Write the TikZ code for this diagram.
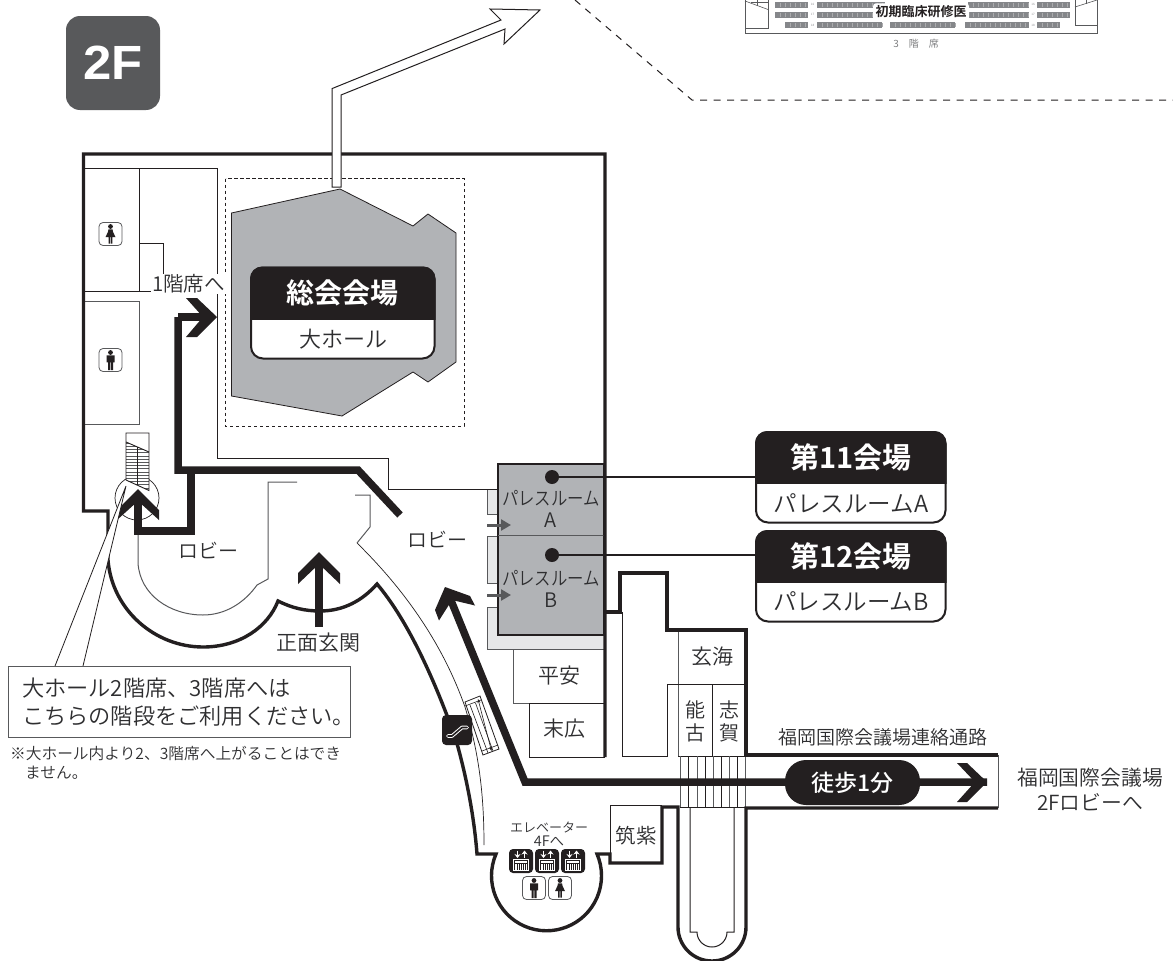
\documentclass[tikz,border=0pt]{standalone}
\usepackage{fontspec}
\setmainfont{Noto Sans CJK JP DemiLight}[BoldFont={Noto Sans CJK JP Bold}]
\newfontfamily\badgefont{Liberation Sans}
\newfontfamily\medfont{Noto Sans CJK JP Medium}
\usetikzlibrary{calc,arrows.meta}
\definecolor{ink}{HTML}{231F20}
\definecolor{txt}{HTML}{2E2E30}
\definecolor{roomgray}{HTML}{B1B3B6}
\definecolor{lightroom}{HTML}{E6E7E8}
\definecolor{midgray}{HTML}{58595B}
\definecolor{seat}{HTML}{85878A}
\tikzset{
  wall/.style={draw=ink,line width=3.4pt,line join=miter},
  route/.style={draw=ink,line width=7.5pt,line join=miter},
  thin wall/.style={draw=ink,line width=1pt},
  gray wall/.style={draw=midgray,line width=1pt},
  lbl/.style={text=txt,inner sep=0pt,align=center},
  dotnode/.style={circle,fill=ink,minimum size=14pt,inner sep=0pt},
  stairline/.style={draw=ink,line width=.7pt},
  lead/.style={draw=ink,line width=2.6pt},
  small arrow/.style={draw=midgray,line width=3pt,-{Triangle[length=10pt,width=11pt]}},
  womanicon/.pic={
    \draw[midgray,line width=.8pt,fill=white,rounded corners=4pt] (-11.5,-11.5) rectangle (11.5,11.5);
    \fill[ink] (0,-7.5) circle (2.4pt);
    \fill[ink] (-2,-4.6) -- (2,-4.6) -- (2.6,-2) -- (5,3.2) -- (1.8,3.2) -- (1.8,9.5) -- (.3,9.5) -- (.3,3.2) -- (-.3,3.2) -- (-.3,9.5) -- (-1.8,9.5) -- (-1.8,3.2) -- (-5,3.2) -- (-2.6,-2) -- cycle;
  },
  manicon/.pic={
    \draw[midgray,line width=.8pt,fill=white,rounded corners=4pt] (-11.5,-11.5) rectangle (11.5,11.5);
    \fill[ink] (0,-7.5) circle (2.4pt);
    \fill[ink] (-4,-4.6) -- (4,-4.6) -- (4,2.4) -- (2.5,2.4) -- (2.5,10) -- (.3,10) -- (.3,2.4) -- (-.3,2.4) -- (-.3,10) -- (-2.5,10) -- (-2.5,2.4) -- (-4,2.4) -- cycle;
  },
  lifticon/.pic={
    \fill[ink,rounded corners=4pt] (-12,-12) rectangle (12,12);
    \draw[white,line width=1.2pt,-{Stealth[length=4pt,width=6pt]}] (-3.5,-10.5) -- (-3.5,-3);
    \draw[white,line width=1.2pt,-{Stealth[length=4pt,width=6pt]}] (3.5,-3) -- (3.5,-10.5);
    \draw[white,line width=.8pt] (-7.5,-1.5) rectangle (7.5,9.5);
    \fill[white] (-6,0) rectangle (6,8.5);
    \foreach \k in {-4,-2,0,2,4}{\draw[ink,line width=1pt] (\k,2.5) -- (\k,8.5);}
    \draw[ink,line width=.6pt] (-6,2) -- (6,2);
  },
}
% labelled black/white box: name x1 y1 x2 y2 ydiv text size
\newcommand{\labelbox}[8]{%
  \filldraw[fill=white,draw=ink,line width=2pt,rounded corners=12pt] (#2,#3) rectangle (#4,#5);
  \begin{scope}
    \clip (#2-3,#3-3) rectangle (#4+3,#6);
    \fill[ink,rounded corners=12pt] (#2-1,#3-1) rectangle (#4+1,#5+1);
  \end{scope}
  \node[inner sep=0pt,text=white,font=\bfseries\fontsize{#8}{#8}\selectfont] (#1top) at ($(#2,#3)!.5!(#4,#6)$) {#7};
}
% one block of seats: x1 x2 y1 y2
\newcommand{\seatblock}[4]{%
  \fill[seat] (#1,#3) rectangle (#2,#4);
  \pgfmathtruncatemacro{\nn}{(#2-#1)/5}
  \foreach \k in {1,...,\nn}{\draw[white!30!seat,line width=.35pt] ({#1+\k*5},{#3+1}) -- ({#1+\k*5},{#4-1});}
}
\begin{document}
\begin{tikzpicture}[x=1pt,y=-1pt]
\useasboundingbox (0,0) rectangle (1173,961);
\fill[white] (0,0) rectangle (1173,961);

% ---------- top fragment of upper-floor seating
\begin{scope}
\clip (0,0) rectangle (1173,120);
\draw[midgray,line width=1pt] (745,-2) -- (745,33.2) -- (1097,33.2) -- (1097,-2);
\draw[midgray,line width=.8pt] (745,28.5) -- (768,28.5) -- (768,-2);
\draw[midgray,line width=.6pt] (745,1) -- (768,9.5);
\draw[midgray,line width=.6pt] (757,-2) -- (757,5.5);
\draw[midgray,line width=.6pt] (751,2) -- (768,2);
\draw[midgray,line width=.8pt] (1097,25) -- (1075,25) -- (1075,-2);
\draw[midgray,line width=.6pt] (1097,0) -- (1075,7);
\draw[midgray,line width=.6pt] (1086,-2) -- (1086,4);
\foreach \ya/\yb in {2/8,11.5/18}{
  \seatblock{775}{808}{\ya}{\yb}
  \seatblock{817}{885}{\ya}{\yb}
  \seatblock{968}{1029}{\ya}{\yb}
  \seatblock{1037}{1070}{\ya}{\yb}
}
\seatblock{785}{808}{22}{28}
\seatblock{817}{882}{22}{28}
\seatblock{890}{955}{22}{28}
\seatblock{965}{1029}{22}{28}
\seatblock{1037}{1060}{22}{28}
\foreach \yy/\t in {4/16,14/17,25/18}{
  \node[inner sep=0pt,text=seat,font=\fontsize{3}{3}\selectfont] (rowl\t) at (812.5,\yy) {\t};
  \node[inner sep=0pt,text=seat,font=\fontsize{3}{3}\selectfont] (rowr\t) at (1033,\yy) {\t};
}
\node[inner sep=2.5pt,fill=white,rounded corners=3pt,text=ink,font=\bfseries\fontsize{13}{13}\selectfont] (trainee) at (921,12) {初期臨床研修医};
\node[inner sep=0pt,text=midgray!85,font=\fontsize{10}{10}\selectfont] (seat3) at (916,44) {3\hspace{1em}階\hspace{1em}席};
\end{scope}
\draw[ink,line width=1pt,dash pattern=on 7pt off 6.5pt] (575,0) -- (692,100) -- (1173,100);

% ---------- badge
\fill[midgray,rounded corners=14pt] (66,16) rectangle (160,110);
\node[inner sep=0pt,text=white,xscale=1.06,font=\badgefont\bfseries\fontsize{48}{48}\selectfont] (badge) at (113,62.5) {2F};

% ---------- rooms (fills)
\fill[lightroom] (487,489) rectangle (498,514);
\draw[midgray,line width=1pt] (498,489) -- (487,489) -- (487,514) -- (498,514);
\fill[lightroom] (487,536) rectangle (498,583);
\draw[midgray,line width=1pt] (498,536) -- (487,536) -- (487,583) -- (498,583);
\fill[lightroom] (487,607) rectangle (605,649);
\draw[midgray,line width=1pt] (498,607) -- (487,607) -- (487,649) -- (605,649);
\filldraw[fill=roomgray,draw=ink,line width=1.2pt] (498,464) rectangle (604,635);
\draw[midgray,line width=1pt] (498,535.5) -- (604,535.5);
\node[lbl,yscale=1.15,font=\fontsize{16.4}{20}\selectfont] (palA) at (551,498) {パレスルーム};
\node[lbl,font=\fontsize{20}{20}\selectfont] (palAx) at (551,520.5) {A};
\node[lbl,yscale=1.15,font=\fontsize{16.4}{20}\selectfont] (palB) at (551,578) {パレスルーム};
\node[lbl,font=\fontsize{20}{20}\selectfont] (palBx) at (551,600.5) {B};
\coordinate (arrAs) at (487,525); \coordinate (arrAe) at (511,525);
\coordinate (arrBs) at (487,595); \coordinate (arrBe) at (511,595);
\draw[small arrow] (arrAs) -- (arrAe);
\draw[small arrow] (arrBs) -- (arrBe);

% ---------- small rooms
\draw[gray wall] (605,649) -- (513,649) -- (513,703) -- (605,703);
\draw[thin wall] (605,703) -- (529,703) -- (529,757) -- (605,757);
\node[lbl,font=\fontsize{21}{21}\selectfont] (heian) at (559,676) {平安};
\node[lbl,font=\fontsize{21}{21}\selectfont] (suehiro) at (564,729) {末広};

% ---------- hall
\draw[ink,line width=.8pt,dash pattern=on 3.4pt off 2.6pt] (225.5,178.5) rectangle (464,426);
\filldraw[fill=roomgray,draw=ink,line width=.8pt] (231.5,213) -- (340,189) -- (413,226) -- (428,214) -- (456,233) -- (456,362) -- (428,382) -- (413,372) -- (342,416) -- (231.5,396) -- cycle;
\labelbox{hall}{251}{267.5}{434.5}{358.5}{319}{総会会場}{28}
\node[lbl,font=\fontsize{22}{22}\selectfont] (hallsub) at (343,339) {大ホール};

% ---------- thin interior walls
\draw[thin wall] (83,168) -- (217,168) -- (217,458) -- (388,458) -- (388,489) -- (498,489);
\draw[thin wall] (139,168) -- (139,291);
\draw[thin wall] (83,291) -- (155,291);
\draw[thin wall] (139,243.5) -- (163.5,243.5) -- (163.5,275);
\draw[gray wall] (83,301) -- (139.5,301) -- (139.5,424) -- (83,424);
\pic at (110.5,234) {womanicon};
\pic at (110.5,360) {manicon};

% lobby lines
\draw[gray wall] (138,531) -- (138,563) .. controls (140,595) and (170,615) .. (203,615) .. controls (226,615) and (245,602) .. (257,585) -- (268,579) -- (268,482) -- (297,482);
\draw[gray wall] (355,495) -- (370,495) -- (370,527) -- (357,543);
\draw[ink,line width=.7pt] (357,543) .. controls (410,595) and (445,650) .. (465,707) .. controls (478,750) and (484,790) .. (484,845);

% ---------- east wing thin walls
\draw[thin wall] (622,612) -- (622,756) -- (667,756) -- (667,684) -- (678,684);
\draw[gray wall] (678,630) -- (678,756);
\draw[thin wall] (678,684) -- (746,684);
\draw[thin wall] (712,684) -- (712,756);
\draw[thin wall] (678,756) -- (746,756);
\foreach \k [count=\i] in {680,688,697,705,713,721,729,737,745}{
  \ifodd\i \draw[midgray,line width=1pt] (\k,756) -- (\k,807);
  \else \draw[ink,line width=.8pt] (\k,756) -- (\k,807); \fi
}
\draw[thin wall] (680,807) -- (746,807);
\draw[thin wall] (690,807) -- (690,932) -- (697,932) arc[start angle=180,end angle=360,radius=15pt] -- (734,932) -- (734,807);
\node[lbl,font=\fontsize{21}{21}\selectfont] (genkai) at (712,657) {玄海};
\node[lbl,font=\fontsize{20}{23}\selectfont] (noko) at (695,721) {能\\古};
\node[lbl,font=\fontsize{20}{23}\selectfont] (shika) at (729,721) {志\\賀};
\draw[thin wall] (662,805.5) -- (610.5,805.5) -- (610.5,861);
\node[lbl,font=\fontsize{20.5}{21}\selectfont] (chikushi) at (636,836) {筑紫};

% ---------- stairs and circle
\draw[ink,line width=.7pt] (137,498) circle (22pt);
\fill[white] (126,433) rectangle (149,491);
\begin{scope}
  \clip (126,442) -- (149,452) -- (149,490.5) -- (126,480) -- cycle;
  \foreach \k in {0,...,15}{\draw[midgray,line width=.6pt] (126,{443+\k*3.2}) -- (149,{443+\k*3.2});}
\end{scope}
\draw[stairline] (137,447) -- (137,485);
\draw[ink,line width=.9pt] (126,442) -- (149,452);
\draw[ink,line width=.9pt] (126,480) -- (126,433) -- (149,433) -- (149,490.5) -- cycle;

% ---------- outer walls
\draw[wall] (605,757) -- (605,154) -- (83.5,154) -- (83.5,511) -- (108,511) -- (108,560)
   .. controls (112,610) and (155,647) .. (203,647)
   .. controls (240,647) and (268,627) .. (278,601)
   .. controls (292,608) and (305,611) .. (320,611)
   .. controls (343,611) and (362,601) .. (377,584)
   .. controls (405,617) and (432,672) .. (456,740)
   .. controls (466,775) and (474,815) .. (477,854) -- (496,854)
   arc[start angle=156.7,end angle=383.3,radius=55pt] -- (610,854) -- (610,863) -- (662,863) -- (662,807) -- (678,807)
   -- (678,927) arc[start angle=180,end angle=360,radius=34pt] -- (746,808) -- (998,808);
\draw[wall] (605,612) -- (620,612) -- (620,573) -- (667,573) -- (667,630) -- (746,630) -- (746,755) -- (998,755);
\draw[midgray,line width=.7pt] (998,755) -- (998,808);

% ---------- escalator
\filldraw[fill=white,draw=ink,line width=.8pt] (465,702) -- (480,696) -- (499,749) -- (483,755) -- cycle;
\draw[ink,line width=.6pt] (465,706) -- (481,700);
\draw[ink,line width=.6pt] (482,751) -- (498,745);
\draw[ink,line width=.6pt] (470,705) -- (488,753);
\draw[ink,line width=.6pt] (475.5,703) -- (493,751);
\coordinate (escA) at (478,699); \coordinate (escB) at (491.5,751);
\draw[ink,line width=.6pt,{Stealth[length=4pt,width=3pt]}-{Stealth[length=4pt,width=3pt]}] (escA) -- (escB);
\fill[ink,rounded corners=4pt] (442,715) rectangle (472,745);
\draw[white,line width=3.6pt,line join=round,line cap=round] (448,736) -- (452,736) -- (462,727.5) -- (467,727.5);
\draw[ink,line width=1.6pt,line join=round,line cap=round] (448,736) -- (452,736) -- (462,727.5) -- (467,727.5);

% ---------- elevator labels and icons
\node[lbl,font=\fontsize{13}{13}\selectfont] (ev) at (549,827) {エレベーター};
\node[lbl,font=\fontsize{14.5}{14.5}\selectfont] (evb) at (549,841) {4Fへ};
\pic at (521,861) {lifticon};
\pic at (547,861) {lifticon};
\pic at (573,861) {lifticon};
\pic at (534,888) {manicon};
\pic at (560,888) {womanicon};

% ---------- routes
\draw[route] (178,317) -- (205,317);
\fill[ink] (186,298) -- (197,298) -- (217,317) -- (197,337) -- (186,337) -- (203,317) -- cycle;
\draw[route] (178,317) -- (178,470) -- (358,470) -- (400,515);
\draw[route] (191,470) -- (191,531) -- (138,531) -- (138,497);
\fill[ink] (138,489) -- (159,510) -- (159,520) -- (138,501) -- (117,520) -- (117,510) -- cycle;
\coordinate (entS) at (319,627); \coordinate (entE) at (319,562);
\draw[route] (entS) -- (entE);
\fill[ink] (319,552) -- (340,573) -- (340,584) -- (319,564) -- (298,584) -- (298,573) -- cycle;
\draw[route] (987,782) -- (525,782) -- (450,598);
\fill[ink] (445,587) -- (470,596) -- (475,605.5) -- (452,600) -- (439,620.5) -- (435,610) -- cycle;
\fill[ink] (957,763) -- (967,763) -- (987,782) -- (967,802) -- (957,802) -- (975,782) -- cycle;
\node[fill=ink,rounded corners=21pt,minimum width=135pt,minimum height=45pt,inner sep=0pt,text=white,font=\medfont\fontsize{23}{23}\selectfont] (walk) at (852.5,782.5) {徒歩1分};

% ---------- callout
\draw[fill=white,draw=ink,line width=.8pt] (55,666) -- (126,486) -- (83,666);
\draw[fill=white,draw=midgray,line width=1pt] (8.5,666) rectangle (350,737);
\node[lbl,anchor=west,font=\fontsize{22.2}{22.2}\selectfont] (note1) at (22,688) {大ホール2階席、3階席へは};
\node[lbl,anchor=west,font=\fontsize{22.2}{22.2}\selectfont] (note2) at (22,716) {こちらの階段をご利用ください。};
\node[lbl,anchor=west,font=\fontsize{15.7}{15.7}\selectfont] (note3) at (10,754) {※大ホール内より2、3階席へ上がることはでき};
\node[lbl,anchor=west,font=\fontsize{15.7}{15.7}\selectfont] (note4) at (25,773) {ません。};

% ---------- text labels
\node[lbl,fill=white,inner sep=1pt,font=\fontsize{20.5}{20.5}\selectfont] (first) at (188.5,284) {1階席へ};
\node[lbl,font=\fontsize{20}{20}\selectfont] (lobby1) at (208,550) {ロビー};
\node[lbl,font=\fontsize{20}{20}\selectfont] (lobby2) at (437,539) {ロビー};
\node[lbl,font=\fontsize{21}{21}\selectfont] (entrance) at (318,643) {正面玄関};
\node[lbl,font=\fontsize{19}{19}\selectfont] (corr) at (883,737) {福岡国際会議場連絡通路};
\node[lbl,font=\fontsize{20.8}{25}\selectfont] (dest) at (1090,789.5) {福岡国際会議場\\2Fロビーへ};

% ---------- session room boxes and leaders
\labelbox{r11}{756}{432}{945.5}{522.5}{483}{第11会場}{29}
\node[lbl,font=\fontsize{23.5}{23.5}\selectfont] (r11sub) at (851,503) {パレスルームA};
\labelbox{r12}{756}{531}{945.5}{621.5}{582}{第12会場}{29}
\node[lbl,font=\fontsize{23.5}{23.5}\selectfont] (r12sub) at (851,601) {パレスルームB};
\node[dotnode] (dotA) at (552,477) {};
\node[dotnode] (dotB) at (552,555) {};
\coordinate (r11w) at (756,477);
\coordinate (r12w) at (756,555);
\draw[lead] (dotA) -- (r11w);
\draw[lead] (dotB) -- (r12w);

% ---------- white top arrow
\filldraw[fill=white,draw=ink,line width=1pt,line join=miter] (332,187) -- (332,88.6) -- (501,20) -- (490,9) -- (540,10) -- (504,44) -- (505,29) -- (341,95) -- (341,187) -- cycle;
\end{tikzpicture}
\end{document}
